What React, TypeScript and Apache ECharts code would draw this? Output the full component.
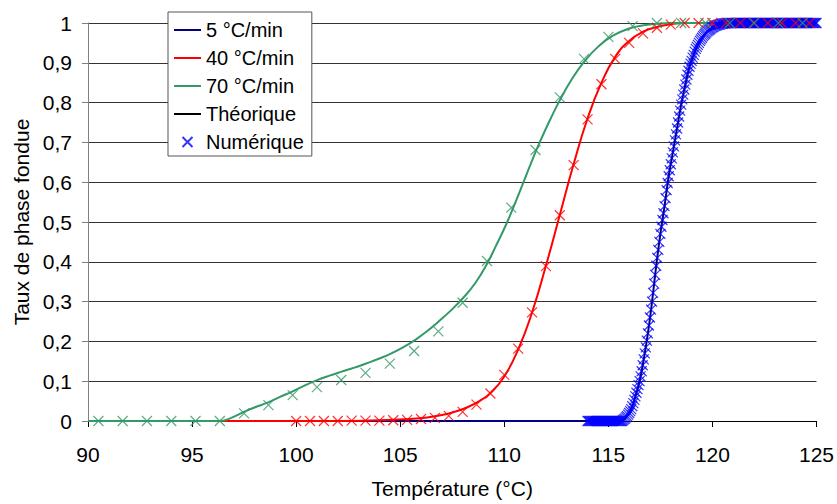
import React, { useEffect, useRef } from 'react';
import * as echarts from 'echarts';

const FONT = "'Liberation Sans', Arial, sans-serif";

const yTickLabels = ['0', '0,1', '0,2', '0,3', '0,4', '0,5', '0,6', '0,7', '0,8', '0,9', '1'];
const legendNames = ['5 °C/min', '40 °C/min', '70 °C/min', 'Théorique', 'Numérique'];
const xTitle = 'Température (°C)';
const yTitle = 'Taux de phase fondue';

// Theoretical curves [T, fraction]
const blueLine: [number, number][] = [
  [90, 0], [115.5, 0], [115.7, 0.002], [115.9, 0.012], [116.1, 0.03], [116.3, 0.062], [116.5, 0.1],
  [116.7, 0.155], [116.9, 0.22], [117.1, 0.3], [117.3, 0.39], [117.5, 0.47], [117.7, 0.54],
  [117.9, 0.615], [118.1, 0.675], [118.3, 0.735], [118.5, 0.795], [118.7, 0.845], [118.9, 0.89],
  [119.1, 0.92], [119.3, 0.945], [119.5, 0.963], [119.8, 0.981], [120.2, 0.994], [120.6, 0.999],
  [121, 1], [125, 1],
];
const redLine: [number, number][] = [
  [90, 0], [102, 0], [103.5, 0.001], [104.67, 0.003], [105.5, 0.005], [106.3, 0.009], [107, 0.015],
  [107.6, 0.023], [108.2, 0.034], [108.8, 0.05], [109.33, 0.07], [110, 0.112], [110.67, 0.18],
  [111.33, 0.272], [112, 0.39], [112.67, 0.518], [113.33, 0.645], [114, 0.76], [114.67, 0.85],
  [115.33, 0.915], [116, 0.955], [116.67, 0.978], [117.33, 0.99], [118, 0.997], [118.7, 1], [125, 1],
];
const greenLine: [number, number][] = [
  [90, 0], [96.3, 0], [96.8, 0.006], [97.46, 0.022], [98, 0.034], [98.63, 0.046], [99.2, 0.06],
  [99.81, 0.074], [100.4, 0.089], [100.98, 0.102], [101.6, 0.114], [102.18, 0.124], [102.8, 0.134],
  [103.33, 0.144], [104, 0.157], [104.5, 0.168], [105.3, 0.19], [105.67, 0.202], [106.3, 0.226],
  [106.82, 0.249], [107.4, 0.276], [108.02, 0.309], [108.6, 0.346], [109.14, 0.392], [109.6, 0.44],
  [110.1, 0.495], [110.5, 0.545], [110.9, 0.597], [111.3, 0.65], [111.7, 0.7], [112.2, 0.757],
  [112.66, 0.805], [113.2, 0.855], [113.86, 0.904], [114.5, 0.94], [115.22, 0.968], [116, 0.986],
  [116.8, 0.995], [117.5, 0.999], [118, 1], [125, 1],
];

// Numerical results, sampled on a regular temperature grid
const blueNumStart = 114;
const blueNumStep = 0.05;
const blueNumY = [
  0, 0, 0, 0, 0, 0, 0, 0, 0, 0,
  0, 0, 0, 0, 0, 0, 0, 0, 0, 0,
  0, 0, 0, 0, 0, 0, 0, 0, 0, 0,
  0, 0, 0, 0,
  0.002, 0.004, 0.006, 0.009, 0.012, 0.016, 0.02, 0.025, 0.03, 0.037,
  0.045, 0.053, 0.062, 0.071, 0.08, 0.09, 0.1, 0.112, 0.125, 0.14,
  0.155, 0.17, 0.185, 0.202, 0.22, 0.24, 0.26, 0.28, 0.3, 0.322,
  0.345, 0.367, 0.39, 0.41, 0.43, 0.45, 0.47, 0.488, 0.505, 0.522,
  0.54, 0.56, 0.58, 0.598, 0.615, 0.63, 0.645, 0.66, 0.675, 0.69,
  0.705, 0.72, 0.735, 0.75, 0.765, 0.78, 0.795, 0.808, 0.82, 0.833,
  0.845, 0.858, 0.87, 0.88, 0.89, 0.898, 0.905, 0.913, 0.92, 0.928,
  0.935, 0.94, 0.945, 0.95, 0.955, 0.959, 0.963, 0.967, 0.97, 0.973,
  0.976, 0.979, 0.981, 0.983, 0.985, 0.987, 0.989, 0.99, 0.992, 0.993,
  0.994, 0.995, 0.996, 0.996, 0.997, 0.998, 0.998, 0.999, 0.999, 0.999,
  1, 1, 1, 1, 1, 1, 1, 1, 1, 1,
  1, 1, 1, 1, 1, 1, 1, 1, 1, 1,
  1, 1, 1, 1, 1, 1, 1, 1, 1, 1,
  1, 1, 1, 1, 1, 1, 1, 1, 1, 1,
  1, 1, 1, 1, 1, 1, 1, 1, 1, 1,
  1, 1, 1, 1, 1, 1, 1, 1, 1, 1,
  1, 1, 1, 1, 1, 1, 1, 1, 1, 1,
  1, 1, 1, 1, 1, 1, 1, 1, 1, 1,
  1, 1, 1, 1, 1, 1, 1,
];
const redNumStart = 100;
const redNumStep = 2 / 3;
const redNumY = [
  0, 0, 0, 0, 0.001, 0.001, 0.001, 0.002, 0.003, 0.005,
  0.008, 0.013, 0.023, 0.041, 0.069, 0.116, 0.182, 0.273, 0.389, 0.517,
  0.643, 0.758, 0.846, 0.91, 0.95, 0.974, 0.988, 0.996, 1, 1,
  1, 1, 1, 1, 1, 1, 1, 1,
];
const greenNumStart = 90.5;
const greenNumStep = 7 / 6;
const greenNumY = [
  0, 0, 0, 0, 0, 0, 0.019, 0.04, 0.065, 0.085,
  0.103, 0.121, 0.144, 0.176, 0.225, 0.297, 0.402, 0.536, 0.681, 0.813,
  0.91, 0.965, 0.992, 1, 1, 1, 1, 1, 1, 1,
];

const COLORS = { blue: '#000080', blueMark: '#0000FF', red: '#FF0000', green: '#339966' };
const CROSS = 'path://M0,0L10,10M10,0L0,10';
const BAR = 'path://M0,0L30,0L30,2.2L0,2.2Z';

const toPoints = (start: number, step: number, ys: number[]) =>
  ys.map((y, i) => [start + step * i, y]);

export default function App() {
  const ref = useRef<HTMLDivElement>(null);
  useEffect(() => {
    if (!ref.current) return;
    const chart = echarts.init(ref.current, null, { renderer: 'svg' });
    const lineSeries = (name: string, color: string, data: [number, number][]) => ({
      name,
      type: 'line',
      data,
      symbol: 'none',
      smooth: 0.5,
      lineStyle: { color, width: 2 },
      itemStyle: { color },
      z: 2,
    });
    const markSeries = (name: string, color: string, data: number[][]) => ({
      name,
      type: 'scatter',
      data,
      symbol: CROSS,
      symbolSize: 10,
      symbolKeepAspect: true,
      itemStyle: { color: 'transparent', borderColor: color, borderWidth: 1.2 },
      z: 3,
    });
    chart.setOption({
      animation: false,
      textStyle: { fontFamily: FONT },
      grid: { left: 88, right: 20, top: 23, bottom: 78, containLabel: false },
      legend: {
        orient: 'vertical',
        left: 168,
        top: 12,
        data: [
          { name: legendNames[0], icon: BAR },
          { name: legendNames[1], icon: BAR },
          { name: legendNames[2], icon: BAR },
          { name: legendNames[3], icon: BAR },
          { name: legendNames[4] },
        ],
        backgroundColor: '#FFFFFF',
        borderColor: '#555555',
        borderWidth: 1,
        padding: [8, 8, 4, 6],
        itemWidth: 27,
        itemHeight: 10,
        itemGap: 8,
        selectedMode: false,
        textStyle: { fontSize: 20, color: '#000', fontFamily: FONT, lineHeight: 20 },
      },
      xAxis: {
        type: 'value',
        min: 90,
        max: 125,
        interval: 5,
        name: xTitle,
        nameLocation: 'middle',
        nameGap: 57,
        nameTextStyle: { fontSize: 21, color: '#000', fontFamily: FONT },
        axisLine: { lineStyle: { color: '#000', width: 1 } },
        axisTick: { show: true, inside: false, length: 6, lineStyle: { color: '#000' } },
        axisLabel: { fontSize: 21, color: '#000', margin: 23, fontFamily: FONT },
        splitLine: { show: false },
      },
      yAxis: {
        type: 'value',
        min: 0,
        max: 1,
        interval: 0.1,
        name: yTitle,
        nameLocation: 'middle',
        nameGap: 56,
        nameTextStyle: { fontSize: 21, color: '#000', fontFamily: FONT },
        axisLine: { show: true, lineStyle: { color: '#808080', width: 1 } },
        axisTick: { show: true, inside: false, length: 6, lineStyle: { color: '#808080' } },
        axisLabel: {
          fontSize: 21,
          color: '#000',
          margin: 16,
          fontFamily: FONT,
          formatter: (v: number) => yTickLabels[Math.round(v * 10)] ?? '',
        },
        splitLine: { show: true, lineStyle: { color: '#333333', width: 1 } },
      },
      series: [
        lineSeries(legendNames[0], COLORS.blue, blueLine),
        lineSeries(legendNames[1], COLORS.red, redLine),
        lineSeries(legendNames[2], COLORS.green, greenLine),
        lineSeries(legendNames[3], '#000000', []),
        markSeries('num5', COLORS.blueMark, toPoints(blueNumStart, blueNumStep, blueNumY)),
        markSeries('num40', COLORS.red, toPoints(redNumStart, redNumStep, redNumY)),
        markSeries('num70', COLORS.green, toPoints(greenNumStart, greenNumStep, greenNumY)),
        markSeries(legendNames[4], COLORS.blueMark, []),
      ],
    });
    return () => chart.dispose();
  }, []);
  return (
    <div
      ref={ref}
      style={{ position: 'fixed', left: 0, top: 0, width: 837, height: 504, background: '#fff' }}
    />
  );
}
